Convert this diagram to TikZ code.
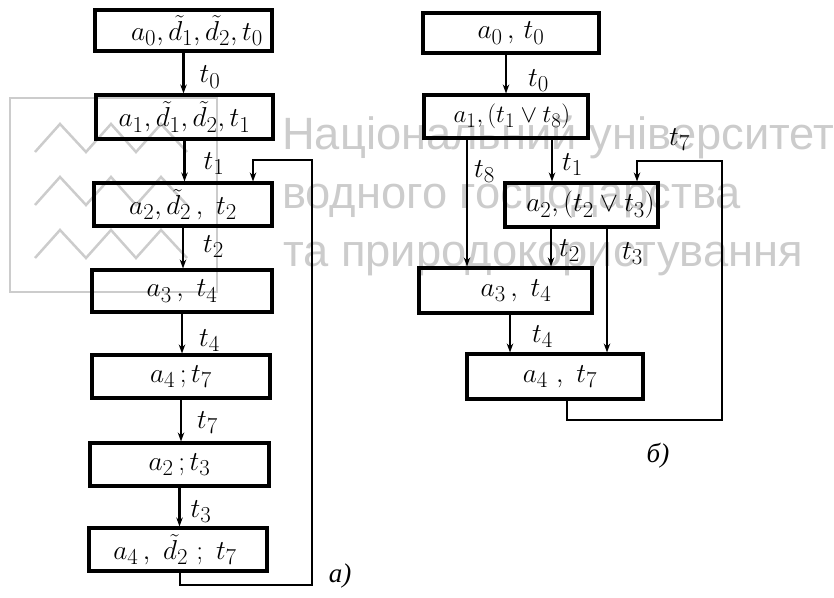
\documentclass[tikz,border=0pt]{standalone}
\usepackage{fontspec}
\usepackage{graphicx}
\usetikzlibrary{arrows.meta}
\newfontfamily\wmfont{Liberation Sans}
\newfontfamily\cyrfont{Liberation Serif}
\definecolor{wm}{gray}{0.80}
\newcommand\tzm[1]{\scalebox{1.1}{$#1$}}
\begin{document}
\begin{tikzpicture}[x=1pt,y=-1pt,
  box/.style={draw, line width=3.1pt, inner sep=0pt, font=\fontsize{24.88}{30}\selectfont},
  arr/.style={line width=2.2pt, -{Stealth[length=9pt,width=6.5pt]}},
  fb/.style={line width=2.6pt},
  lab/.style={inner sep=0pt, font=\fontsize{24.88}{30}\selectfont},
  wmtext/.style={wm, inner sep=0pt, anchor=base west, font=\wmfont\fontsize{45.3}{52}\selectfont},
  captext/.style={inner sep=0pt, font=\cyrfont\itshape\fontsize{27}{32}\selectfont}]
\useasboundingbox (0,0) rectangle (834,597);
% watermark
\draw[wm, line width=2.5pt] (10,98) rectangle (217,292);
\foreach \d in {0,53,106}
  \draw[wm, line width=2.5pt, line join=miter]
    (35,{152+\d}) -- (60,{124+\d}) -- (86,{152+\d}) -- (111,{124+\d})
    -- (136,{152+\d}) -- (161,{124+\d}) -- (187,{152+\d});
\node[wmtext] (w1) at (282,149) {Національний університет};
\node[wmtext] (w2) at (282,208) {водного господарства};
\node[wmtext] (w3) at (283,266) {та природокористування};
% left diagram
\node[box, minimum width=177pt, minimum height=41pt] (B1) at (183.5,30.5) {\hspace*{27pt}\tzm{a_0,\tilde d_1,\tilde d_2,t_0}};
\node[box, minimum width=177pt, minimum height=44pt] (B2) at (184.5,117) {\tzm{a_1,\tilde d_1,\tilde d_2,t_1}};
\node[box, minimum width=178pt, minimum height=43pt] (B3) at (183,204.5) {\tzm{a_2,\tilde d_2\,,\ t_2}};
\node[box, minimum width=180pt, minimum height=42pt] (B4) at (182,291) {\tzm{a_3\,,\ t_4}};
\node[box, minimum width=178pt, minimum height=43pt] (B5) at (181,376.5) {\tzm{a_4\,;t_7}};
\node[box, minimum width=179pt, minimum height=43pt] (B6) at (179.5,464.5) {\tzm{a_2\,;t_3}};
\node[box, minimum width=178pt, minimum height=43pt] (B7) at (178,549.5) {\hspace*{-6pt}\tzm{a_4\,,\ \tilde d_2\ ;\ t_7}};
\draw[arr] (B1.south) -- (B1.south |- B2.north) node[lab, pos=0.6, right=15pt] {\tzm{t_0}};
\draw[arr] (B2.south) -- (B2.south |- B3.north) node[lab, pos=0.57, right=18pt] {\tzm{t_1}};
\draw[arr] (B3.south) -- (B3.south |- B4.north) node[lab, pos=0.47, right=19pt] {\tzm{t_2}};
\draw[arr] (B4.south) -- (B4.south |- B5.north) node[lab, pos=0.67, right=16pt] {\tzm{t_4}};
\draw[arr] (B5.south) -- (B5.south |- B6.north) node[lab, pos=0.55, right=15pt] {\tzm{t_7}};
\draw[arr] (B6.south) -- (B6.south |- B7.north) node[lab, pos=0.62, right=10pt] {\tzm{t_3}};
\coordinate (lbot) at (312,585);
\coordinate (ltop) at (312,160);
\draw[fb, -{Stealth[length=9pt,width=6.5pt]}] ([xshift=2pt]B7.south) |- (lbot) -- (ltop) -| ([xshift=70pt]B3.north);
\node[captext] (capA) at (340,576) {а)};
% right diagram
\node[box, minimum width=176pt, minimum height=40pt] (R1) at (511,33) {\tzm{a_0\,,\,t_0}};
\node[box, minimum width=164pt, minimum height=43pt] (R2) at (506,116.5) {\hspace*{12pt}$a_1,(t_1\vee t_8)$};
\node[box, minimum width=153pt, minimum height=44pt] (Q) at (581.5,205) {\hspace*{18pt}\tzm{a_2,(t_2\vee t_3)}};
\node[box, minimum width=173pt, minimum height=45pt] (R3) at (505.5,290.5) {\hspace*{21pt}\tzm{a_3\,,\ t_4}};
\node[box, minimum width=176pt, minimum height=45pt] (R5) at (555,376.5) {\hspace*{10pt}\tzm{a_4\ ,\ t_7}};
\draw[arr] (R1.south -| R2.north) -- (R2.north) node[lab, pos=0.67, right=21pt] {\tzm{t_0}};
\draw[arr] ([xshift=-39pt]R2.south) -- ([xshift=-39pt]R2.south |- R3.north) node[lab, pos=0.25, right=6pt] {\tzm{t_8}};
\draw[arr] ([xshift=46pt]R2.south) -- ([xshift=46pt]R2.south |- Q.north) node[lab, pos=0.6, right=9pt] {\tzm{t_1}};
\draw[arr] ([xshift=-30.5pt]Q.south) -- ([xshift=-30.5pt]Q.south |- R3.north) node[lab, pos=0.59, right=7pt] {\tzm{t_2}};
\draw[arr] ([xshift=25.5pt]Q.south) -- ([xshift=25.5pt]Q.south |- R5.north) node[lab, pos=0.2, right=14pt] {\tzm{t_3}};
\draw[arr] ([xshift=4.5pt]R3.south) -- ([xshift=4.5pt]R3.south |- R5.north) node[lab, pos=0.59, right=21pt] {\tzm{t_4}};
\coordinate (rbot) at (722,420);
\coordinate (rtop) at (722,161);
\draw[fb, -{Stealth[length=9pt,width=6.5pt]}] ([xshift=12pt]R5.south) |- (rbot) -- (rtop) -| ([xshift=55.5pt]Q.north) node[lab, pos=0.25, above=9pt] {\tzm{t_7}};
\node[captext] (capB) at (658,456) {б)};
\end{tikzpicture}
\end{document}
